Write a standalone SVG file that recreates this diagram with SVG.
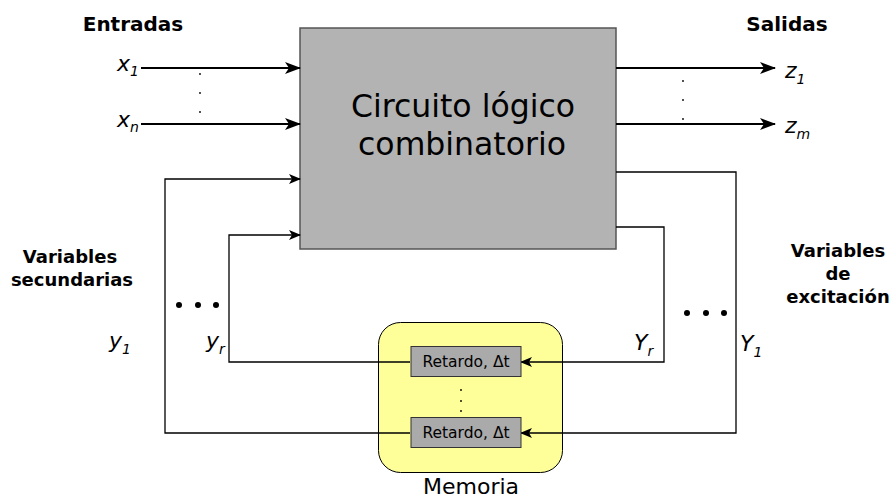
<svg xmlns="http://www.w3.org/2000/svg" width="893" height="499" viewBox="0 0 893 499">
<style>
text{font-family:"DejaVu Sans","Liberation Sans",sans-serif;fill:#000}
.b{font-weight:bold}
.i{font-style:italic}
.s{font-style:italic;font-size:14px}
.c{fill:none;stroke:#000;stroke-width:1.3}
.t{fill:none;stroke:#000;stroke-width:2}
.d{fill:#000}
</style>
<defs>
<marker id="a" viewBox="0 0 12 10" refX="11" refY="5" markerWidth="12" markerHeight="10" markerUnits="userSpaceOnUse" orient="auto"><path d="M0,0 L12,5 L0,10 L3,5 z" fill="#000"/></marker>
<marker id="a2" viewBox="0 0 16 12" refX="15" refY="6" markerWidth="16" markerHeight="12" markerUnits="userSpaceOnUse" orient="auto"><path d="M0,0 L16,6 L0,12 L4,6 z" fill="#000"/></marker>
</defs>
<g id="memoria">
<rect x="378.5" y="322.5" width="184" height="150" rx="22" fill="#ffff99" stroke="#000" stroke-width="1"/>
<text x="471" y="494" text-anchor="middle" font-size="22">Memoria</text>
</g>
<g id="circuito">
<rect x="300" y="28" width="316" height="221" fill="#b3b3b3" stroke="#555" stroke-width="1.5"/>
<text x="463" y="117" text-anchor="middle" font-size="31.5">Circuito lógico</text>
<text x="462" y="155" text-anchor="middle" font-size="31.5">combinatorio</text>
</g>
<g id="connectors">
<line class="t" x1="141" y1="68" x2="300" y2="68" marker-end="url(#a2)"/>
<line class="t" x1="141" y1="124" x2="300" y2="124" marker-end="url(#a2)"/>
<line class="t" x1="616" y1="68" x2="775" y2="68" marker-end="url(#a2)"/>
<line class="t" x1="616" y1="124" x2="775" y2="124" marker-end="url(#a2)"/>
<polyline class="c" points="616,172 736,172 736,433 521,433" marker-end="url(#a)"/>
<polyline class="c" points="410,433 165,433 165,179 300,179" marker-end="url(#a)"/>
<polyline class="c" points="616,227 664,227 664,362 521,362" marker-end="url(#a)"/>
<polyline class="c" points="410,362 229,362 229,235 300,235" marker-end="url(#a)"/>
</g>
<g id="retardo1">
<rect x="411" y="346.5" width="110" height="30" fill="#aaa" stroke="#333" stroke-width="1"/>
<text x="466" y="367" text-anchor="middle" font-size="15.5">Retardo, Δt</text>
</g>
<g id="retardo2">
<rect x="411" y="417.5" width="110" height="30" fill="#aaa" stroke="#333" stroke-width="1"/>
<text x="466" y="438" text-anchor="middle" font-size="15.5">Retardo, Δt</text>
</g>
<g id="labels">
<text class="b" x="133" y="31" text-anchor="middle" font-size="20">Entradas</text>
<text class="b" x="787" y="31" text-anchor="middle" font-size="20">Salidas</text>
<text class="b" x="70" y="263" text-anchor="middle" font-size="18">Variables</text>
<text class="b" x="72" y="286" text-anchor="middle" font-size="18">secundarias</text>
<text class="b" x="838" y="257" text-anchor="middle" font-size="18">Variables</text>
<text class="b" x="838" y="280" text-anchor="middle" font-size="18">de</text>
<text class="b" x="838" y="303" text-anchor="middle" font-size="18">excitación</text>
<text class="i" x="117" y="71" font-size="22">x<tspan class="s" dy="5">1</tspan></text>
<text class="i" x="117" y="127" font-size="22">x<tspan class="s" dy="5">n</tspan></text>
<text class="i" x="785" y="78" font-size="22">z<tspan class="s" dy="6">1</tspan></text>
<text class="i" x="785" y="133" font-size="22">z<tspan class="s" dy="6">m</tspan></text>
<text class="i" x="109" y="348" font-size="22">y<tspan class="s" dy="6">1</tspan></text>
<text class="i" x="206" y="348" font-size="22">y<tspan class="s" dy="6">r</tspan></text>
<text class="i" x="634" y="350" font-size="22">Y<tspan class="s" dy="6">r</tspan></text>
<text class="i" x="740" y="351" font-size="22">Y<tspan class="s" dy="6">1</tspan></text>
</g>
<g id="dots">
<circle class="d" cx="200" cy="74" r="0.9"/><circle class="d" cx="200" cy="93" r="0.9"/><circle class="d" cx="200" cy="112" r="0.9"/>
<circle class="d" cx="683" cy="81" r="0.9"/><circle class="d" cx="683" cy="100" r="0.9"/><circle class="d" cx="683" cy="119" r="0.9"/>
<circle class="d" cx="179" cy="305" r="3"/><circle class="d" cx="198" cy="305" r="3"/><circle class="d" cx="216" cy="305" r="3"/>
<circle class="d" cx="687" cy="313" r="3"/><circle class="d" cx="706" cy="313" r="3"/><circle class="d" cx="724" cy="313" r="3"/>
<circle class="d" cx="461" cy="390" r="0.9"/><circle class="d" cx="461" cy="401" r="0.9"/><circle class="d" cx="461" cy="411" r="0.9"/>
</g>
</svg>
